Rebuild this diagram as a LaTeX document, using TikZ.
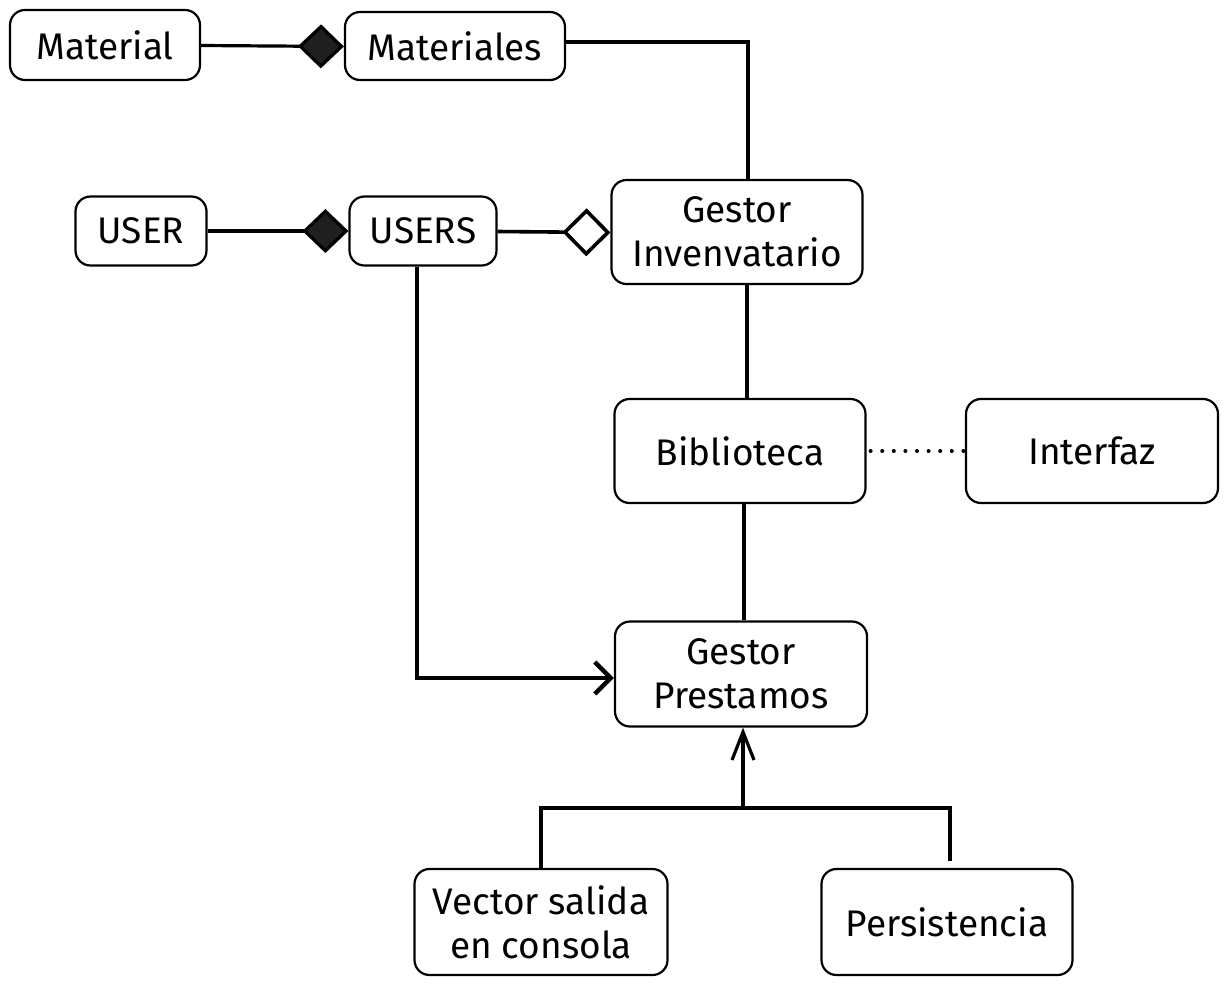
\documentclass[tikz,border=0pt]{standalone}
\usepackage{fontspec}
\setmainfont{Fira Sans}
\usetikzlibrary{arrows.meta,calc}
\begin{document}
\begin{tikzpicture}[x=1pt,y=-1pt,
  box/.style={draw,line width=2.2pt,rounded corners=15pt,inner sep=0pt,align=center,
    font=\fontsize{37}{44}\selectfont},
  conn/.style={line width=3.2pt},
  fdia/.style={-{Diamond[length=46pt,width=44pt,fill=black!88]}},
  odia/.style={-{Diamond[open,length=48pt,width=48pt,fill=white]}},
  barb/.style={-{Straight Barb[length=16pt,width=32pt]}}]
\useasboundingbox (0,0) rectangle (1230,986);
\node[box,minimum width=190pt,minimum height=70pt] (mat) at (105,45) {Material};
\node[box,minimum width=220pt,minimum height=68pt] (mats) at (455,46) {Materiales};
\node[box,minimum width=131pt,minimum height=69pt] (usr) at (141,231) {USER};
\node[box,minimum width=147pt,minimum height=69pt] (usrs) at (423,231) {USERS};
\node[box,minimum width=251pt,minimum height=104pt] (gi) at (737,232) {Gestor\\Invenvatario};
\node[box,minimum width=251pt,minimum height=104pt] (bib) at (740,451) {Biblioteca};
\node[box,minimum width=252pt,minimum height=104pt] (intf) at (1092,451) {Interfaz};
\node[box,minimum width=252pt,minimum height=105pt] (gp) at (741,674) {Gestor\\Prestamos};
\node[box,minimum width=253pt,minimum height=106pt] (vs) at (541,922) {Vector salida\\en consola};
\node[box,minimum width=251pt,minimum height=106pt] (per) at (947,922) {Persistencia};
\coordinate (bus) at (743,808);
% compositions
\draw[conn,fdia] ([yshift=-0.5pt]mat.east) -- ([yshift=-0.5pt]mats.west);
\draw[conn,fdia] (usr.east) -- (usrs.west);
\draw[line width=3.6pt,odia] ([yshift=-0.5pt]usrs.east) -- ([yshift=-0.5pt]gi.west);
% materiales to gestor
\draw[conn] ([yshift=4pt]mats.east) -| ([xshift=11pt]gi.north);
% vertical chain
\draw[conn] ([xshift=10pt]gi.south) -- ([xshift=7pt]bib.north);
\draw[conn] ([xshift=4pt]bib.south) -- ([xshift=3pt]gp.north);
\draw[line width=4pt,dash pattern=on 0pt off 11.6pt,line cap=round] ([xshift=4pt]bib.east) -- (intf.west);
% users to prestamos
\draw[line width=4.4pt,barb] ([xshift=-6pt]usrs.south) |- ([yshift=-4pt]gp.west);
% bus
\draw[conn] (vs.north) |- (bus) -| ([xshift=3pt,yshift=7pt]per.north);
\draw[conn,-{Straight Barb[length=28pt,width=22pt]}] (bus) -- ([xshift=2pt]gp.south);
\end{tikzpicture}
\end{document}
